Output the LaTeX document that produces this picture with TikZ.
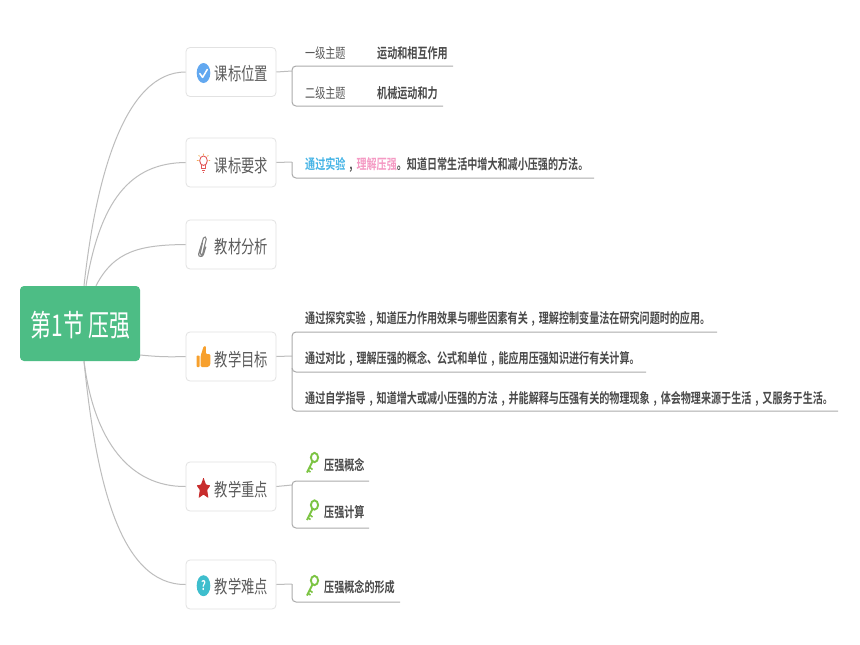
\documentclass[tikz,border=0pt]{standalone}
\usepackage{fontspec}
\newfontfamily\cjk[FakeStretch=0.72]{Noto Sans CJK SC}
\newfontfamily\cjkbr[FakeStretch=0.74]{Noto Sans CJK SC}
\newfontfamily\cjkt[FakeStretch=0.695]{Noto Sans CJK SC}
\newfontfamily\cjkb[FakeStretch=0.72]{Noto Sans CJK SC Bold}
\definecolor{rootgreen}{HTML}{4DBD85}
\definecolor{txtdark}{HTML}{4A4A4A}
\definecolor{txtgray}{HTML}{5A5A5A}
\definecolor{conngray}{HTML}{BDBDBD}
\definecolor{linegray}{HTML}{ABABAB}
\definecolor{boxgray}{HTML}{E2E2E2}
\definecolor{keygreen}{HTML}{7CC443}
\definecolor{checkblue}{HTML}{62A8F0}
\definecolor{bulbred}{HTML}{E25858}
\definecolor{bulbray}{HTML}{F0AA50}
\definecolor{clipgray}{HTML}{828282}
\definecolor{thumborange}{HTML}{F7A02D}
\definecolor{starred}{HTML}{C82D2D}
\definecolor{qteal}{HTML}{3EBECD}
\newcommand{\cm}{\makebox[11pt][c]{,}}
\tikzset{
 x=1pt,y=-1pt,
 rootbox/.style={fill=rootgreen,rounded corners=4,minimum width=120,minimum height=75,inner sep=0},
 roottext/.style={inner sep=0,text=white,font=\cjkt\fontsize{30}{32}\selectfont},
 branchbox/.style={draw=boxgray,line width=.8,fill=white,rounded corners=4,minimum width=90,minimum height=49,inner sep=0},
 branchtext/.style={anchor=west,inner sep=0,text=txtgray,font=\cjkbr\fontsize{18}{20}\selectfont},
 leaftext/.style={anchor=west,inner sep=0,text=txtdark,font=\cjkb\fontsize{14}{16}\selectfont},
 leaflight/.style={anchor=west,inner sep=0,text=txtgray,font=\cjk\fontsize{14}{16}\selectfont},
 conn/.style={draw=conngray,line width=1},
 under/.style={draw=linegray,line width=1,rounded corners=4},
}
\newcommand{\keyicon}[2]{%
 \begin{scope}[shift={(#1,#2)}]
  \draw[keygreen,line width=1.9] (0,-5.5) ellipse[x radius=3.6,y radius=4.6];
  \draw[keygreen,line width=1.9] (-2,-1.5) -- (-7.5,9.5);
  \draw[keygreen,line width=1.6] (-5.2,4) -- (-2,6.5);
  \draw[keygreen,line width=1.6] (-6.7,7.2) -- (-4,9);
 \end{scope}}
\begin{document}
\begin{tikzpicture}
\useasboundingbox (0,0) rectangle (860,645);
\fill[white] (0,0) rectangle (860,645);

% root and branches
\node[rootbox] (root) at (80,323.5) {};
\node[roottext] (roott) at (80.7,325.5) {第1节 压强};
\node[branchbox] (b1) at (231,72) {};
\node[branchbox] (b2) at (231,162.5) {};
\node[branchbox] (b3) at (231,244.5) {};
\node[branchbox] (b4) at (231,356.5) {};
\node[branchbox] (b5) at (231,486.5) {};
\node[branchbox] (b6) at (231,584.5) {};
\node[branchtext] (t1) at (214.5,73.5) {课标位置};
\node[branchtext] (t2) at (214.5,165.5) {课标要求};
\node[branchtext] (t3) at (214.5,247) {教材分析};
\node[branchtext] (t4) at (214.5,359.5) {教学目标};
\node[branchtext] (t5) at (214.5,489.5) {教学重点};
\node[branchtext] (t6) at (214.5,586.5) {教学难点};

% root connectors
\draw[conn] ([xshift=4]root.north) .. controls +(12,-110) and (125,72) .. (b1.west);
\draw[conn] ([xshift=6]root.north) .. controls +(14,-85) and (130,163) .. (b2.west);
\draw[conn] ([xshift=16]root.north) .. controls +(18,-35) and (140,245) .. (b3.west);
\draw[conn] (root.south east |- 0,355) .. controls (160,357) and (170,357) .. (b4.west);
\draw[conn] ([xshift=4]root.south) .. controls +(10,80) and (130,487) .. (b5.west);
\draw[conn] ([xshift=4]root.south) .. controls +(12,120) and (120,585) .. (b6.west);

% leaves
\node[leaflight] (l11) at (305,53.5) {一级主题};
\node[leaftext] (l12) at (377,53.5) {运动和相互作用};
\node[leaflight] (l21) at (305,93.5) {二级主题};
\node[leaftext] (l22) at (377,93.5) {机械运动和力};
\node[leaftext] (l3) at (305,165) {\textcolor[HTML]{45B4E6}{通过实验}\cm\textcolor[HTML]{F59AC4}{理解压强}。知道日常生活中增大和减小压强的方法。};
\node[leaftext] (l41) at (305,318.8) {通过探究实验\cm 知道压力作用效果与哪些因素有关\cm 理解控制变量法在研究问题时的应用。};
\node[leaftext] (l42) at (305,358.8) {通过对比\cm 理解压强的概念、公式和单位\cm 能应用压强知识进行有关计算。};
\node[leaftext] (l43) at (305,398.8) {通过自学指导\cm 知道增大或减小压强的方法\cm 并能解释与压强有关的物理现象\cm 体会物理来源于生活\cm 又服务于生活。};
\node[leaftext] (l51) at (324,465) {压强概念};
\node[leaftext] (l52) at (324,512) {压强计算};
\node[leaftext] (l61) at (324,587.5) {压强概念的形成};

% stubs and brackets
\draw[conn] (b1.east) -- (292,71);
\draw[under] (453,66) -- (292,66) -- (292,106) -- (443,106);
\draw[conn] (b2.east) -- (292,162);
\draw[under] (292,162) -- (292,178) -- (594,178);
\draw[conn] (b4.east) -- (292,356);
\draw[under] (717,332) -- (292,332) -- (292,372) -- (646,372);
\draw[under] (292,368) -- (292,411) -- (838,411);
\draw[conn] (b5.east) -- (292,485);
\draw[under] (369,481) -- (292,481) -- (292,528) -- (369,528);
\draw[conn] (b6.east) -- (292,584);
\draw[under] (292,584) -- (292,602) -- (400,602);

% icons
\fill[checkblue] (203.5,73) ellipse[x radius=6.8,y radius=10];
\draw[white,line width=1.5,line cap=round,line join=round] (199.8,73.5) -- (202.6,77.4) -- (207.3,69.4);
% bulb
\begin{scope}[shift={(203.5,163)}]
 \draw[bulbred,line width=.9] (0,-2.3) ellipse[x radius=3.8,y radius=4.8];
 \draw[bulbred,line width=.9] (-1.6,2.3) -- (-1.6,5) -- (1.6,5) -- (1.6,2.3) (-1.6,7) -- (1.6,7) (-.8,9.3) -- (.8,9.3);
 \draw[bulbray,line width=.8] (0,-9.5) -- (0,-8) (-4.8,-7.8) -- (-4,-6.6) (4.8,-7.8) -- (4,-6.6) (-6.6,-2.5) -- (-5,-2.5) (6.6,-2.5) -- (5,-2.5);
\end{scope}
% paperclip
\begin{scope}[shift={(203.2,246)}]
 \draw[clipgray,line width=1.1,line cap=round,rounded corners=2]
  (-.8,-3) -- (-2.5,5) .. controls (-3.4,9) and (-.8,9.5) .. (-.2,6) -- (2.6,-5) .. controls (3.6,-9) and (.8,-10) .. (-.3,-6) -- (-4,6) .. controls (-5.4,11) and (-.5,11.5) .. (.8,6.5) -- (2.6,1);
\end{scope}
% thumb
\begin{scope}[shift={(203.5,357)}]
 \fill[thumborange,rounded corners=.8] (-7,-1.5) rectangle (-3.8,10);
 \fill[thumborange,rounded corners=1.2] (-2.8,-1.5) -- (.3,-11) -- (2.5,-11) -- (2.2,-3) -- (6.8,-3) -- (6.8,8) -- (5,10) -- (-2.8,10) -- cycle;
\end{scope}
% star
\fill[starred,rounded corners=.6] (203.5,477.5)
 -- (206,484.6) -- (210.4,485.4) -- (207.2,490) -- (208.4,498) -- (203.5,494.6) -- (198.6,498) -- (199.8,490) -- (196.6,485.4) -- (201,484.6) -- cycle;
% question
\fill[qteal] (203.5,585.7) ellipse[x radius=6.8,y radius=10.5];
\node[inner sep=0,text=white,font=\cjkb\fontsize{13}{13}\selectfont] (q) at (203.5,585.7) {?};
% keys
\keyicon{314.5}{463}
\keyicon{314.5}{510.5}
\keyicon{314.5}{586}
\end{tikzpicture}
\end{document}
